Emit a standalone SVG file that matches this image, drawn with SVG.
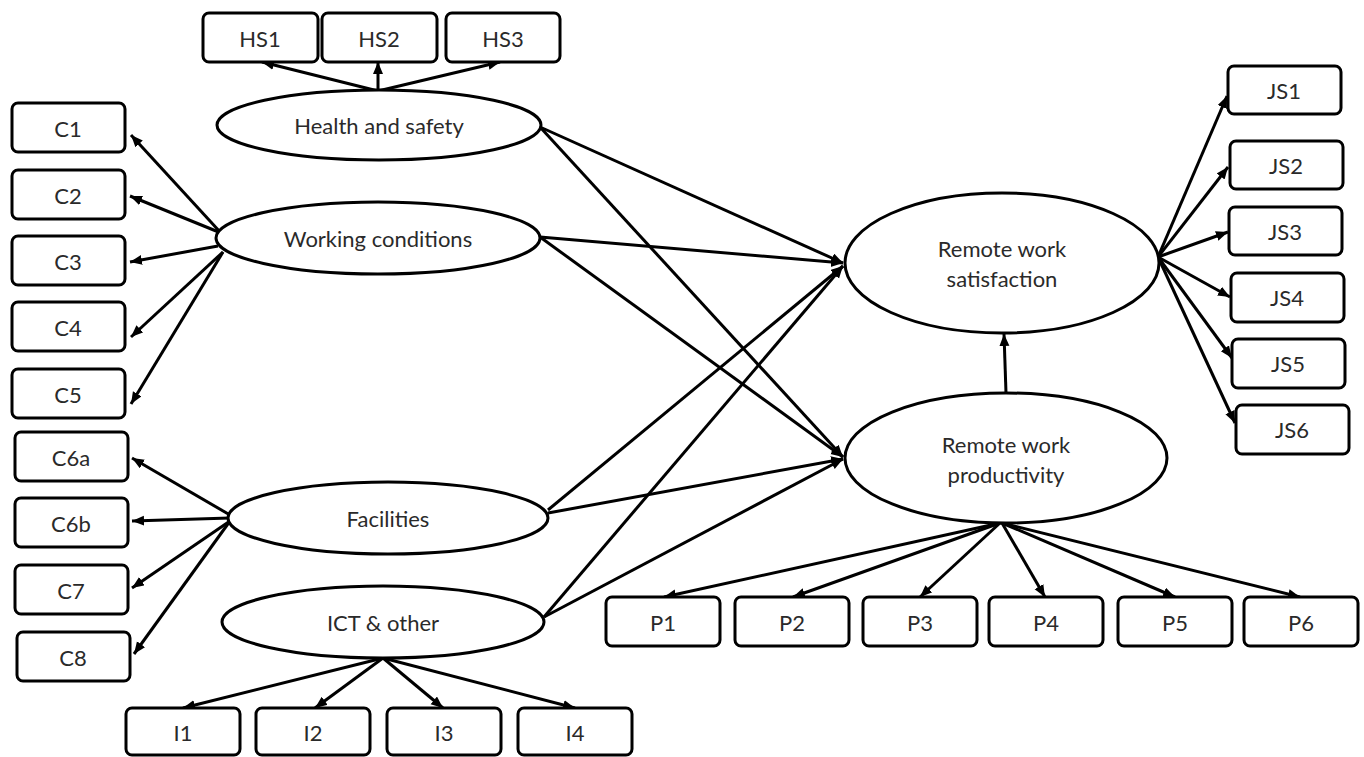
<svg xmlns="http://www.w3.org/2000/svg" width="1364" height="757" viewBox="0 0 1364 757">
<defs>
<marker id="ah" markerUnits="userSpaceOnUse" markerWidth="14" markerHeight="12" refX="12" refY="5" orient="auto">
<path d="M0,0 L12,5 L0,10 z" fill="#000"/>
</marker>
<style>
.box{fill:#fff;stroke:#000;stroke-width:3}
.ell{fill:#fff;stroke:#000;stroke-width:3}
.lbl{font-family:Lato,"Liberation Sans",sans-serif;font-size:22px;fill:#2a2a2a;text-anchor:middle;dominant-baseline:central}
.con line{stroke:#000;stroke-width:3;marker-end:url(#ah)}
</style>
</defs>
<rect width="1364" height="757" fill="#fff"/>

<g id="connectors" class="con">
<line x1="378" y1="91" x2="262" y2="62"/>
<line x1="378" y1="91" x2="378" y2="62"/>
<line x1="378" y1="91" x2="500" y2="62"/>
<line x1="221" y1="233" x2="131" y2="135"/>
<line x1="221" y1="233" x2="130" y2="196"/>
<line x1="218" y1="246" x2="130" y2="262"/>
<line x1="223" y1="252" x2="131" y2="337"/>
<line x1="223" y1="252" x2="131" y2="404"/>
<line x1="230" y1="515" x2="132" y2="458"/>
<line x1="230" y1="518" x2="132" y2="521"/>
<line x1="230" y1="521" x2="132" y2="588"/>
<line x1="230" y1="521" x2="134" y2="654"/>
<line x1="383" y1="658" x2="183" y2="708"/>
<line x1="383" y1="658" x2="315" y2="708"/>
<line x1="383" y1="658" x2="443" y2="708"/>
<line x1="383" y1="658" x2="575" y2="708"/>
<line x1="540" y1="127" x2="843" y2="263"/>
<line x1="540" y1="127" x2="843" y2="457"/>
<line x1="540" y1="237" x2="843" y2="263"/>
<line x1="540" y1="237" x2="843" y2="457"/>
<line x1="548" y1="510" x2="843" y2="266"/>
<line x1="548" y1="513" x2="843" y2="459"/>
<line x1="544" y1="617" x2="843" y2="266"/>
<line x1="544" y1="617" x2="843" y2="459"/>
<line x1="1006" y1="393" x2="1004" y2="334"/>
<line x1="1158" y1="257" x2="1227" y2="96"/>
<line x1="1158" y1="257" x2="1228" y2="167"/>
<line x1="1158" y1="257" x2="1228" y2="232"/>
<line x1="1158" y1="257" x2="1230" y2="297"/>
<line x1="1158" y1="257" x2="1232" y2="358"/>
<line x1="1158" y1="257" x2="1235" y2="423"/>
<line x1="1000" y1="523" x2="664" y2="597"/>
<line x1="1000" y1="523" x2="793" y2="597"/>
<line x1="1000" y1="523" x2="920" y2="597"/>
<line x1="1002" y1="523" x2="1045" y2="597"/>
<line x1="1002" y1="523" x2="1175" y2="597"/>
<line x1="1002" y1="523" x2="1300" y2="597"/>
</g>

<g id="HS1"><rect class="box" x="203" y="13" width="115" height="49" rx="6"/><text class="lbl" x="260" y="38">HS1</text></g>
<g id="HS2"><rect class="box" x="322" y="13" width="115" height="49" rx="6"/><text class="lbl" x="379" y="38">HS2</text></g>
<g id="HS3"><rect class="box" x="446" y="13" width="114" height="49" rx="6"/><text class="lbl" x="503" y="38">HS3</text></g>

<g id="health"><ellipse class="ell" cx="379" cy="125" rx="162" ry="35"/><text class="lbl" x="379" y="125">Health and safety</text></g>
<g id="working"><ellipse class="ell" cx="378" cy="238" rx="162" ry="36"/><text class="lbl" x="378" y="238">Working conditions</text></g>
<g id="facilities"><ellipse class="ell" cx="388" cy="518" rx="160" ry="36"/><text class="lbl" x="388" y="518">Facilities</text></g>
<g id="ict"><ellipse class="ell" cx="383" cy="622" rx="161" ry="36"/><text class="lbl" x="383" y="622">ICT &amp; other</text></g>
<g id="satisfaction"><ellipse class="ell" cx="1002" cy="263" rx="157" ry="70"/><text class="lbl" x="1002" y="248">Remote work</text><text class="lbl" x="1002" y="278">satisfaction</text></g>
<g id="productivity"><ellipse class="ell" cx="1006" cy="458" rx="161" ry="65"/><text class="lbl" x="1006" y="444">Remote work</text><text class="lbl" x="1006" y="474">productivity</text></g>

<g id="C1"><rect class="box" x="12" y="103" width="113" height="49" rx="6"/><text class="lbl" x="68" y="128">C1</text></g>
<g id="C2"><rect class="box" x="12" y="170" width="113" height="49" rx="6"/><text class="lbl" x="68" y="195">C2</text></g>
<g id="C3"><rect class="box" x="12" y="236" width="113" height="49" rx="6"/><text class="lbl" x="68" y="261">C3</text></g>
<g id="C4"><rect class="box" x="12" y="302" width="113" height="49" rx="6"/><text class="lbl" x="68" y="327">C4</text></g>
<g id="C5"><rect class="box" x="12" y="369" width="113" height="49" rx="6"/><text class="lbl" x="68" y="394">C5</text></g>
<g id="C6a"><rect class="box" x="15" y="432" width="113" height="49" rx="6"/><text class="lbl" x="71" y="457">C6a</text></g>
<g id="C6b"><rect class="box" x="15" y="498" width="113" height="49" rx="6"/><text class="lbl" x="71" y="523">C6b</text></g>
<g id="C7"><rect class="box" x="15" y="565" width="113" height="49" rx="6"/><text class="lbl" x="71" y="590">C7</text></g>
<g id="C8"><rect class="box" x="17" y="632" width="113" height="49" rx="6"/><text class="lbl" x="73" y="657">C8</text></g>

<g id="I1"><rect class="box" x="126" y="708" width="114" height="47" rx="6"/><text class="lbl" x="183" y="732">I1</text></g>
<g id="I2"><rect class="box" x="256" y="708" width="114" height="47" rx="6"/><text class="lbl" x="313" y="732">I2</text></g>
<g id="I3"><rect class="box" x="387" y="708" width="114" height="47" rx="6"/><text class="lbl" x="444" y="732">I3</text></g>
<g id="I4"><rect class="box" x="518" y="708" width="114" height="47" rx="6"/><text class="lbl" x="575" y="732">I4</text></g>

<g id="P1"><rect class="box" x="606" y="597" width="114" height="49" rx="6"/><text class="lbl" x="663" y="622">P1</text></g>
<g id="P2"><rect class="box" x="735" y="597" width="114" height="49" rx="6"/><text class="lbl" x="792" y="622">P2</text></g>
<g id="P3"><rect class="box" x="863" y="597" width="114" height="49" rx="6"/><text class="lbl" x="920" y="622">P3</text></g>
<g id="P4"><rect class="box" x="989" y="597" width="114" height="49" rx="6"/><text class="lbl" x="1046" y="622">P4</text></g>
<g id="P5"><rect class="box" x="1118" y="597" width="114" height="49" rx="6"/><text class="lbl" x="1175" y="622">P5</text></g>
<g id="P6"><rect class="box" x="1244" y="597" width="114" height="49" rx="6"/><text class="lbl" x="1301" y="622">P6</text></g>

<g id="JS1"><rect class="box" x="1228" y="66" width="113" height="48" rx="6"/><text class="lbl" x="1284" y="90">JS1</text></g>
<g id="JS2"><rect class="box" x="1230" y="141" width="113" height="48" rx="6"/><text class="lbl" x="1286" y="165">JS2</text></g>
<g id="JS3"><rect class="box" x="1229" y="207" width="113" height="48" rx="6"/><text class="lbl" x="1285" y="231">JS3</text></g>
<g id="JS4"><rect class="box" x="1231" y="273" width="113" height="49" rx="6"/><text class="lbl" x="1287" y="297">JS4</text></g>
<g id="JS5"><rect class="box" x="1232" y="339" width="113" height="49" rx="6"/><text class="lbl" x="1288" y="363">JS5</text></g>
<g id="JS6"><rect class="box" x="1236" y="405" width="113" height="49" rx="6"/><text class="lbl" x="1292" y="429">JS6</text></g>
</svg>
